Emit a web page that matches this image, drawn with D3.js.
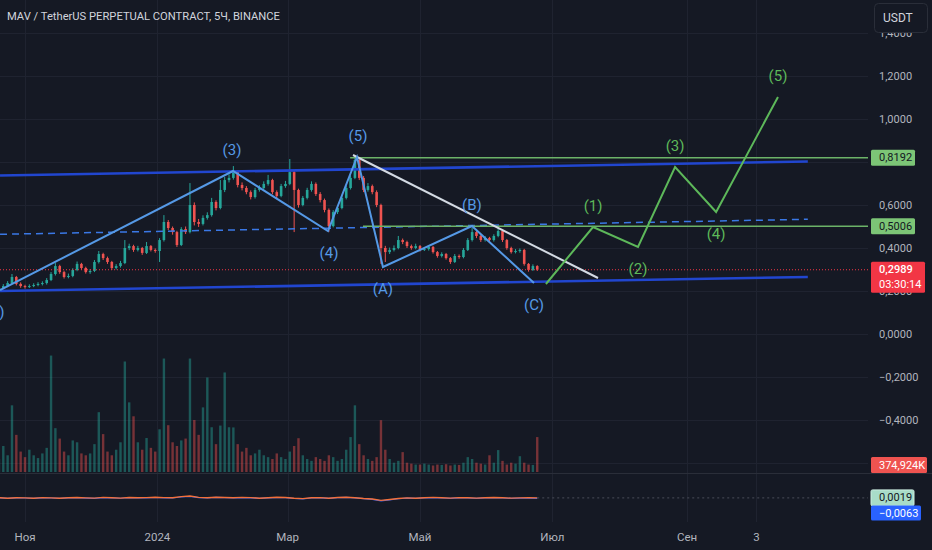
<!DOCTYPE html>
<html><head><meta charset="utf-8">
<script src="https://cdn.jsdelivr.net/npm/d3@7"></script>
<style>
html,body{margin:0;padding:0;background:#151924;overflow:hidden}
svg{display:block}
text{font-family:Roboto,"Noto Sans",sans-serif}
</style></head><body>
<svg id="c" width="932" height="550"></svg>
<script>
// ---------------- data ----------------
const title = "MAV / TetherUS PERPETUAL CONTRACT, 5Ч, BINANCE";
const candleStart = "2023-10-20T00:00Z";
const candleStepDays = 2;
const firstOpen = 0.205;
const closes = [0.214,0.223,0.237,0.265,0.233,0.223,0.219,0.223,0.228,0.233,
0.237,0.251,0.279,0.316,0.288,0.265,0.270,0.298,0.326,0.307,
0.288,0.293,0.335,0.372,0.353,0.335,0.307,0.316,0.330,0.400,
0.409,0.391,0.400,0.377,0.409,0.391,0.386,0.437,0.521,0.493,
0.474,0.414,0.488,0.474,0.600,0.521,0.512,0.540,0.553,0.614,
0.586,0.670,0.716,0.726,0.753,0.693,0.679,0.660,0.637,0.670,
0.679,0.698,0.716,0.660,0.642,0.688,0.698,0.753,0.670,0.600,
0.633,0.670,0.698,0.651,0.623,0.577,0.502,0.567,0.586,0.633,
0.679,0.726,0.809,0.726,0.670,0.688,0.660,0.600,0.400,0.381,
0.391,0.400,0.437,0.428,0.409,0.400,0.409,0.391,0.395,0.405,
0.381,0.363,0.372,0.353,0.335,0.363,0.358,0.391,0.437,0.474,
0.456,0.437,0.447,0.437,0.456,0.479,0.437,0.400,0.381,0.386,
0.391,0.326,0.298,0.316,0.2989];
const highs = [0.222,0.232,0.246,0.279,0.270,0.240,0.229,0.231,0.236,0.241,
0.245,0.260,0.288,0.330,0.322,0.294,0.281,0.306,0.337,0.331,
0.313,0.302,0.344,0.386,0.378,0.360,0.340,0.325,0.340,0.437,
0.420,0.415,0.410,0.405,0.428,0.414,0.398,0.446,0.553,0.530,
0.500,0.480,0.497,0.500,0.702,0.612,0.535,0.552,0.566,0.633,
0.622,0.716,0.730,0.742,0.781,0.760,0.705,0.688,0.668,0.680,
0.692,0.710,0.740,0.722,0.668,0.698,0.712,0.814,0.760,0.676,
0.642,0.680,0.710,0.705,0.660,0.630,0.584,0.576,0.598,0.642,
0.690,0.738,0.828,0.815,0.735,0.702,0.695,0.668,0.606,0.410,
0.402,0.412,0.456,0.444,0.434,0.416,0.420,0.414,0.404,0.414,
0.410,0.386,0.380,0.377,0.358,0.372,0.370,0.400,0.446,0.493,
0.480,0.462,0.456,0.452,0.464,0.493,0.484,0.442,0.406,0.395,
0.398,0.396,0.330,0.324,0.320];
const lows = [0.200,0.209,0.218,0.232,0.226,0.215,0.211,0.214,0.218,0.222,
0.226,0.230,0.246,0.272,0.280,0.258,0.259,0.264,0.292,0.299,
0.281,0.280,0.288,0.328,0.344,0.326,0.298,0.300,0.309,0.325,
0.390,0.382,0.384,0.368,0.372,0.384,0.378,0.335,0.430,0.484,
0.462,0.405,0.409,0.465,0.468,0.505,0.498,0.505,0.532,0.546,
0.575,0.580,0.660,0.705,0.718,0.682,0.668,0.650,0.626,0.630,
0.662,0.672,0.690,0.650,0.630,0.636,0.680,0.692,0.474,0.588,
0.594,0.626,0.662,0.642,0.612,0.566,0.474,0.496,0.558,0.580,
0.626,0.672,0.720,0.716,0.660,0.662,0.650,0.590,0.326,0.335,
0.372,0.384,0.394,0.418,0.400,0.392,0.394,0.384,0.386,0.388,
0.374,0.355,0.356,0.346,0.326,0.330,0.350,0.352,0.386,0.430,
0.446,0.428,0.430,0.428,0.430,0.450,0.428,0.392,0.374,0.375,
0.378,0.318,0.290,0.293,0.293];
// volumes in thousands
const volumes = [700,1400,900,3590,2000,1100,800,1200,900,750,
1000,1300,6270,2360,1800,1100,900,1700,1600,1000,
900,1000,1500,3220,2040,1100,900,1200,1600,5950,
3750,3000,1600,1200,1830,1300,1100,2300,6110,2520,
1600,1400,1700,1800,6110,2800,2000,3480,5090,2410,
1500,2500,5360,2410,2400,1500,1100,1300,900,1000,
1200,900,800,700,1000,800,700,1100,1400,1820,
900,700,600,800,700,600,900,800,600,700,
1200,1880,3590,1500,900,700,600,800,2790,1200,
700,500,600,1070,500,450,400,400,450,400,
350,400,380,420,350,400,380,500,800,700,
500,450,400,900,500,1180,600,400,500,450,
850,500,400,380,1880];
// indicator (one value per two candles)
const indicatorA = [0.005,-0.004,0.006,0.002,-0.005,0.008,0.003,-0.006,0.004,0.010,
0.002,-0.003,0.012,0.006,-0.002,0.009,0.004,0.007,0.015,0.008,
0.004,0.028,0.040,0.012,0.006,0.016,0.010,0.004,0.012,0.008,
-0.004,0.006,0.014,0.010,-0.006,-0.012,0.004,0.008,-0.004,0.010,
0.016,0.006,-0.010,-0.020,-0.048,-0.030,-0.010,0.002,-0.004,0.006,
0.012,0.004,-0.002,0.008,0.004,-0.002,0.006,0.010,0.004,-0.003,
0.002,0.004,0.0019];
const indicatorB = [0.002,-0.006,0.003,0.000,-0.008,0.004,0.000,-0.009,0.001,0.006,
-0.001,-0.006,0.008,0.002,-0.005,0.005,0.000,0.003,0.010,0.004,
0.000,0.020,0.030,0.008,0.002,0.011,0.006,0.000,0.008,0.004,
-0.008,0.002,0.009,0.006,-0.010,-0.016,0.000,0.004,-0.008,0.006,
0.011,0.002,-0.014,-0.026,-0.058,-0.038,-0.015,-0.003,-0.008,0.002,
0.007,0.000,-0.006,0.003,0.000,-0.006,0.002,0.005,0.000,-0.007,
-0.003,-0.001,-0.0063];
const lastPrice = 0.2989;
const lastPriceTimer = "03:30:14";
const lastVolumeK = 374.924;
const indALast = 0.0019, indBLast = -0.0063;

// visible price-scale labels (0,8000 and −0,6000 sit under value boxes in the reference)
const priceTicks = [1.4,1.2,1.0,0.8,0.6,0.4,0.2,0,-0.2,-0.4,-0.6];
const priceLabelTicks = [1.4,1.2,1.0,0.6,0.4,0.2,0,-0.2,-0.4];
const timeTickDates = ["2023-11-01T00:00Z","2024-01-01T00:00Z","2024-03-01T00:00Z","2024-05-01T00:00Z","2024-07-01T00:00Z","2024-09-01T00:00Z","2024-10-03T00:00Z"];
const timeTickLabels = ["Ноя","2024","Мар","Май","Июл","Сен","3"];

// Elliott wave (blue, completed)
const waveDates = ["2023-10-20T12:00Z","2024-02-04T20:00Z","2024-03-19T14:00Z","2024-04-01T23:00Z","2024-04-13T22:00Z","2024-05-24T22:00Z","2024-06-22T12:00Z"];
const wavePrices = [0.2047,0.7581,0.4791,0.8233,0.3116,0.5023,0.2372];
const waveLabels = ["(1)","(3)","(4)","(5)","(A)","(B)","(C)"];
// projected wave (green)
const projDates = ["2024-06-28T00:00Z","2024-07-19T17:00Z","2024-08-09T10:00Z","2024-08-26T12:00Z","2024-09-14T10:00Z","2024-10-12T22:00Z"];
const projPrices = [0.2326,0.4977,0.4047,0.7767,0.5674,1.1023];
const projLabels = ["","(1)","(2)","(3)","(4)","(5)"];
// channel
const channelDates = ["2023-10-20T12:00Z","2024-10-26T16:00Z"];
const channelUpper = [0.7372,0.8023];
const channelLower = [0.2000,0.2651];
const channelMid = [0.4637,0.5335];
// descending trend line
const trendDates = ["2024-03-31T03:00Z","2024-07-22T00:00Z"];
const trendPrices = [0.8326,0.2605];
// horizontal levels
const levelPrices = [0.8192,0.5006];
const levelStarts = ["2024-03-29T19:00Z","2024-04-04T17:00Z"];

// ---------------- layout ----------------
const W = 932, H = 550, plotR = 868;
const svg = d3.select("#c");
const x = d3.scaleUtc().domain([new Date("2023-11-01T00:00Z"), new Date("2024-09-01T00:00Z")]).range([25, 687]);
const y = d3.scaleLinear().domain([0, 1]).range([334, 119]);
const yv = d3.scaleLinear().domain([0, 6300]).range([472, 355]);
const yi = d3.scaleLinear().domain([-0.1, 0.1]).range([503, 493]);
const fmt = v => d3.format(".4f")(v).replace(".", ",");
const UP = "#26a69a", DN = "#ef5350";
const D = s => new Date(s);

svg.append("rect").attr("width", W).attr("height", H).attr("fill", "#151924");

// grid
const grid = svg.append("g").attr("stroke", "#1f2330").attr("stroke-width", 1);
grid.selectAll("line.h").data(priceTicks).join("line")
  .attr("x1", 0).attr("x2", plotR).attr("y1", d => Math.round(y(d)) + 0.5).attr("y2", d => Math.round(y(d)) + 0.5);
grid.selectAll("line.v").data(timeTickDates).join("line")
  .attr("y1", 0).attr("y2", 522).attr("x1", d => Math.round(x(D(d))) + 0.5).attr("x2", d => Math.round(x(D(d))) + 0.5);

// pane separator
svg.append("line").attr("x1", 0).attr("x2", W).attr("y1", 473.5).attr("y2", 473.5).attr("stroke", "#2a2e39").attr("stroke-width", 1);

// candles
const t0 = D(candleStart);
const candles = closes.map((c, i) => ({
  date: new Date(+t0 + i * candleStepDays * 864e5),
  open: i ? closes[i - 1] : firstOpen, close: c, high: highs[i], low: lows[i], vol: volumes[i]
}));

// volume
svg.append("g").selectAll("rect").data(candles).join("rect")
  .attr("x", d => x(d.date) - 1.2).attr("width", 2.4)
  .attr("y", d => yv(d.vol)).attr("height", d => yv(0) - yv(d.vol))
  .attr("fill", d => d.close >= d.open ? UP : DN).attr("opacity", 0.45);

// candles
const cg = svg.append("g");
cg.selectAll("line").data(candles).join("line")
  .attr("x1", d => x(d.date)).attr("x2", d => x(d.date))
  .attr("y1", d => y(d.high)).attr("y2", d => y(d.low))
  .attr("stroke", d => d.close >= d.open ? UP : DN).attr("stroke-width", 1);
cg.selectAll("rect").data(candles).join("rect")
  .attr("x", d => x(d.date) - 1.3).attr("width", 2.6)
  .attr("y", d => y(Math.max(d.open, d.close)))
  .attr("height", d => Math.max(1, Math.abs(y(d.open) - y(d.close))))
  .attr("fill", d => d.close >= d.open ? UP : DN);

// indicator pane
const indDate = k => candles[Math.min(2 * k, candles.length - 1)].date;
const lineI = d3.line().x((d, k) => x(indDate(k))).y(d => yi(d));
svg.append("path").attr("d", lineI(indicatorB)).attr("fill", "none").attr("stroke", "#2962ff").attr("stroke-width", 1.2);
svg.append("path").attr("d", lineI(indicatorA)).attr("fill", "none").attr("stroke", "#f4703a").attr("stroke-width", 1.4);
svg.append("line").attr("x1", x(candles[candles.length - 1].date)).attr("x2", plotR)
  .attr("y1", yi(indALast)).attr("y2", yi(indALast)).attr("stroke", "#4a4e5a").attr("stroke-dasharray", "2,3");

// channel
const seg = (dates, prices) => d3.line()(dates.map((d, i) => [x(D(d)), y(prices[i])]));
svg.append("path").attr("d", seg(channelDates, channelUpper)).attr("stroke", "#2146cf").attr("stroke-width", 2.6).attr("fill", "none");
svg.append("path").attr("d", seg(channelDates, channelLower)).attr("stroke", "#2146cf").attr("stroke-width", 2.6).attr("fill", "none");
svg.append("path").attr("d", seg(channelDates, channelMid)).attr("stroke", "#3a78e6").attr("stroke-width", 1.5).attr("stroke-dasharray", "7,5").attr("fill", "none");

// levels
levelPrices.forEach((p, i) => {
  svg.append("line").attr("x1", x(D(levelStarts[i]))).attr("x2", plotR).attr("y1", y(p)).attr("y2", y(p))
    .attr("stroke", "#6cb368").attr("stroke-width", 1.5);
});

// last price line
svg.append("line").attr("x1", 0).attr("x2", plotR).attr("y1", y(lastPrice)).attr("y2", y(lastPrice))
  .attr("stroke", "#f23645").attr("stroke-width", 1).attr("stroke-dasharray", "1,2");

// trend line
svg.append("path").attr("d", seg(trendDates, trendPrices)).attr("stroke", "#d3dae3").attr("stroke-width", 2).attr("fill", "none");

// waves
const BLUE = "#5599e6", GREEN = "#5db85a";
svg.append("path").attr("d", seg(waveDates, wavePrices)).attr("stroke", BLUE).attr("stroke-width", 2).attr("fill", "none");
svg.append("path").attr("d", seg(projDates, projPrices)).attr("stroke", GREEN).attr("stroke-width", 2).attr("fill", "none");

function waveLabel(dates, prices, labels, color, dxs) {
  labels.forEach((lab, i) => {
    if (!lab) return;
    const prev = i > 0 ? prices[i - 1] : null, next = i < prices.length - 1 ? prices[i + 1] : null;
    const ref = prev !== null ? prev : next;
    const peak = prices[i] > ref;
    svg.append("text").attr("x", x(D(dates[i])) + dxs[i])
      .attr("y", y(prices[i]) + (peak ? -21 : 22))
      .attr("text-anchor", "middle").attr("dominant-baseline", "central")
      .attr("font-size", 15).attr("fill", color).text(lab);
  });
}
// the first label sits at the left edge, so only its closing bracket shows, as in the reference
waveLabel(waveDates, wavePrices, waveLabels, BLUE, [-5, -1, 1, 1, 0, 0, 0]);
waveLabel(projDates, projPrices, projLabels, GREEN, [0, 0, 0, 0, 0, 0]);

// title
svg.append("text").attr("x", 7).attr("y", 16).attr("dominant-baseline", "central")
  .attr("font-size", 11.2).attr("fill", "#d1d4dc").text(title);

// price axis labels
svg.append("g").selectAll("text").data(priceLabelTicks).join("text")
  .attr("x", 879).attr("y", d => y(d)).attr("dominant-baseline", "central")
  .attr("font-size", 11).attr("fill", "#b2b5be").text(d => fmt(d));

// time axis labels
svg.append("g").selectAll("text").data(timeTickDates).join("text")
  .attr("x", d => x(D(d))).attr("y", 537).attr("text-anchor", "middle").attr("dominant-baseline", "central")
  .attr("font-size", 11.5).attr("fill", "#b2b5be").text((d, i) => timeTickLabels[i]);

// boxes
function box(yc, w, h, fill, lines, color, stroke, weight) {
  const g = svg.append("g");
  g.append("rect").attr("x", 871).attr("y", yc - 8).attr("width", w).attr("height", h).attr("rx", 1.5)
    .attr("fill", fill).attr("stroke", stroke || "none");
  lines.forEach((t, k) => g.append("text").attr("x", 879).attr("y", yc + k * 15).attr("dominant-baseline", "central")
    .attr("font-size", 11).attr("font-weight", k === 0 && weight ? weight : 400).attr("fill", color).text(t));
}
box(y(levelPrices[0]), 44, 16, "#7cc576", [fmt(levelPrices[0])], "#131722");
box(y(levelPrices[1]), 44, 16, "#7cc576", [fmt(levelPrices[1])], "#131722");
box(y(lastPrice), 54, 31, "#f23645", [fmt(lastPrice), lastPriceTimer], "#ffffff", null, 500);
box(yv(lastVolumeK), 56, 16, "#ef5350", [d3.format(".3f")(lastVolumeK).replace(".", ",") + "K"], "#ffffff");
box(yi(indALast), 43, 16, "#a8dcc8", [fmt(indALast)], "#131722", "#cdeee2");
box(yi(indALast) + 15.5, 50, 15, "#2962ff", [fmt(indBLast)], "#ffffff");

// currency button
svg.append("rect").attr("x", 874.5).attr("y", 3.5).attr("width", 53).attr("height", 29).attr("rx", 4)
  .attr("fill", "#151924").attr("stroke", "#2a2e39");
svg.append("text").attr("x", 883).attr("y", 17.5).attr("dominant-baseline", "central")
  .attr("font-size", 12).attr("fill", "#d1d4dc").text("USDT");
</script>
</body></html>
